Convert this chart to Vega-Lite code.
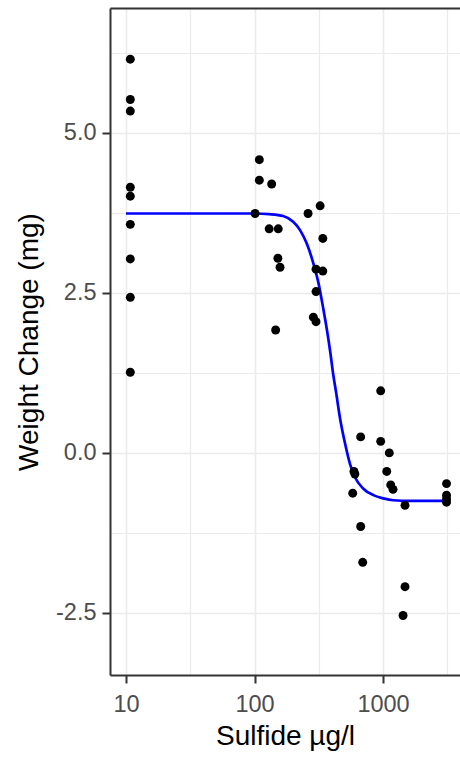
{
  "$schema": "https://vega.github.io/schema/vega-lite/v6.json",
  "width": 350,
  "height": 667,
  "autosize": {"type": "none"},
  "padding": {"left": 110, "top": 8, "right": 0, "bottom": 82},
  "background": "white",
  "config": {"view": {"stroke": null}, "font": "Liberation Sans"},
  "datasets": {
    "points": [
      {"sulfide": 10.8, "weight": 6.15},
      {"sulfide": 10.8, "weight": 5.52},
      {"sulfide": 10.8, "weight": 5.34},
      {"sulfide": 10.8, "weight": 4.15},
      {"sulfide": 10.8, "weight": 4.01},
      {"sulfide": 10.8, "weight": 3.57},
      {"sulfide": 10.8, "weight": 3.03},
      {"sulfide": 10.8, "weight": 2.43},
      {"sulfide": 10.8, "weight": 1.26},
      {"sulfide": 109, "weight": 4.58},
      {"sulfide": 109, "weight": 4.26},
      {"sulfide": 136, "weight": 4.2},
      {"sulfide": 101, "weight": 3.74},
      {"sulfide": 130, "weight": 3.5},
      {"sulfide": 153, "weight": 3.5},
      {"sulfide": 152, "weight": 3.04},
      {"sulfide": 158, "weight": 2.9},
      {"sulfide": 146, "weight": 1.92},
      {"sulfide": 261, "weight": 3.74},
      {"sulfide": 324, "weight": 3.86},
      {"sulfide": 340, "weight": 3.35},
      {"sulfide": 301, "weight": 2.87},
      {"sulfide": 340, "weight": 2.84},
      {"sulfide": 301, "weight": 2.52},
      {"sulfide": 287, "weight": 2.12},
      {"sulfide": 301, "weight": 2.05},
      {"sulfide": 959, "weight": 0.97},
      {"sulfide": 670, "weight": 0.25},
      {"sulfide": 959, "weight": 0.18},
      {"sulfide": 1119, "weight": 0.0},
      {"sulfide": 594, "weight": -0.29},
      {"sulfide": 604, "weight": -0.33},
      {"sulfide": 1069, "weight": -0.29},
      {"sulfide": 1148, "weight": -0.5},
      {"sulfide": 1196, "weight": -0.57},
      {"sulfide": 581, "weight": -0.63},
      {"sulfide": 1483, "weight": -0.82},
      {"sulfide": 670, "weight": -1.15},
      {"sulfide": 695, "weight": -1.71},
      {"sulfide": 1483, "weight": -2.09},
      {"sulfide": 1432, "weight": -2.54},
      {"sulfide": 3120, "weight": -0.48},
      {"sulfide": 3120, "weight": -0.66},
      {"sulfide": 3120, "weight": -0.72},
      {"sulfide": 3120, "weight": -0.77}
    ],
    "curve": [
      {"sulfide": 10, "fit": 3.74},
      {"sulfide": 100, "fit": 3.74},
      {"sulfide": 130, "fit": 3.73},
      {"sulfide": 167, "fit": 3.7},
      {"sulfide": 200, "fit": 3.61},
      {"sulfide": 226, "fit": 3.48},
      {"sulfide": 255, "fit": 3.27},
      {"sulfide": 287, "fit": 2.96},
      {"sulfide": 314, "fit": 2.66},
      {"sulfide": 343, "fit": 2.25},
      {"sulfide": 364, "fit": 1.95},
      {"sulfide": 387, "fit": 1.6},
      {"sulfide": 410, "fit": 1.22},
      {"sulfide": 431, "fit": 0.95},
      {"sulfide": 462, "fit": 0.55},
      {"sulfide": 506, "fit": 0.15},
      {"sulfide": 553, "fit": -0.17},
      {"sulfide": 605, "fit": -0.38},
      {"sulfide": 703, "fit": -0.56},
      {"sulfide": 841, "fit": -0.66},
      {"sulfide": 1005, "fit": -0.71},
      {"sulfide": 1203, "fit": -0.74},
      {"sulfide": 1622, "fit": -0.75},
      {"sulfide": 3120, "fit": -0.75}
    ]
  },
  "resolve": {"axis": {"x": "independent", "y": "independent"}},
  "layer": [
    {
      "data": {"name": "curve"},
      "mark": {"type": "line", "color": "#0000FF", "strokeWidth": 2.7, "interpolate": "monotone"},
      "encoding": {
        "x": {
          "field": "sulfide", "type": "quantitative",
          "scale": {"type": "log", "domain": [7.506, 3972], "nice": false},
          "axis": {
            "orient": "top", "values": [31.62, 316.2, 3162], "grid": true,
            "gridColor": "#EBEBEB", "gridWidth": 1.2, "ticks": false, "labels": false,
            "domain": true, "domainColor": "#333333", "domainWidth": 2, "title": null
          }
        },
        "y": {
          "field": "fit", "type": "quantitative",
          "scale": {"domain": [-3.47, 6.95], "nice": false, "zero": false},
          "axis": {
            "orient": "right", "values": [-1.25, 1.25, 3.75, 6.25], "grid": true,
            "gridColor": "#EBEBEB", "gridWidth": 1.2, "ticks": false, "labels": false,
            "domain": false, "title": null
          }
        }
      }
    },
    {
      "data": {"name": "points"},
      "mark": {"type": "point", "filled": true, "color": "black", "size": 80, "opacity": 1},
      "encoding": {
        "x": {
          "field": "sulfide", "type": "quantitative",
          "axis": {
            "orient": "bottom", "values": [10, 100, 1000], "format": "d", "grid": true,
            "gridColor": "#EBEBEB", "gridWidth": 1.6,
            "domain": true, "domainColor": "#333333", "domainWidth": 2,
            "ticks": true, "tickColor": "#333333", "tickWidth": 2, "tickSize": 8,
            "labelFontSize": 23.5, "labelColor": "#4D4D4D", "labelPadding": 9,
            "title": "Sulfide µg/l", "titleFontSize": 28, "titleColor": "black",
            "titleFontWeight": "normal", "titlePadding": 7
          }
        },
        "y": {
          "field": "weight", "type": "quantitative",
          "axis": {
            "orient": "left", "values": [-2.5, 0, 2.5, 5], "grid": true,
            "gridColor": "#EBEBEB", "gridWidth": 1.6,
            "labelExpr": "datum.value < 0 ? '-' + format(-datum.value, '.1f') : format(datum.value, '.1f')",
            "domain": true, "domainColor": "#333333", "domainWidth": 2,
            "ticks": true, "tickColor": "#333333", "tickWidth": 2, "tickSize": 8,
            "labelFontSize": 23.5, "labelColor": "#4D4D4D", "labelPadding": 6,
            "title": "Weight Change (mg)", "titleFontSize": 28, "titleColor": "black",
            "titleFontWeight": "normal", "titlePadding": 12
          }
        }
      }
    }
  ]
}
